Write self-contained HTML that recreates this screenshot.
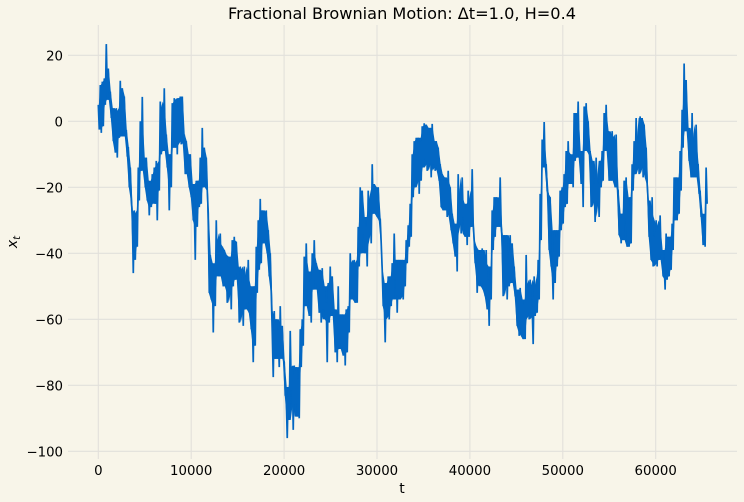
<!DOCTYPE html>
<html lang="en">
<head>
<meta charset="utf-8">
<title>Fractional Brownian Motion</title>
<style>
html,body{margin:0;padding:0;background:#f8f5e9;}
svg{display:block;}
text{font-family:"DejaVu Sans","Liberation Sans",sans-serif;fill:#000;}
</style>
</head>
<body>
<svg id="chart" width="744" height="502" viewBox="0 0 744 502" xmlns="http://www.w3.org/2000/svg">
<rect x="0" y="0" width="744" height="502" fill="#f8f5e9"/>
<g id="grid"></g>
<path id="band" fill="#0367c3" stroke="none"/>
<path id="line" fill="none" stroke="#0367c3" stroke-width="1.7" stroke-linejoin="bevel"/>
<g id="ticks"></g>
<text x="402" y="19" text-anchor="middle" font-size="16" textLength="348" lengthAdjust="spacingAndGlyphs">Fractional Brownian Motion: Δt=1.0, H=0.4</text>
<text x="402" y="493" text-anchor="middle" font-size="14">t</text>
<text transform="translate(17,242) rotate(-90)" text-anchor="middle" font-size="14" font-style="italic">x<tspan dy="3" font-size="10">t</tspan></text>
</svg>
<script>
const xTicks = [0, 10000, 20000, 30000, 40000, 50000, 60000];
const yTicks = [20, 0, -20, -40, -60, -80, -100];
const tMax = 65535;
const seriesValues = [
5,-2.5, 11,-3.5, 12,-1.5, 13,5, 23.4,9, 16,6.5, 9,1, 4,-6, 3,-9.5, 4,-11,
3,-5, 12.3,-4.6, 10,-4.6, 7.5,-4.6, -2.6,-10.7, -7.8,-20, -14,-24, -28,-46, -27,-42, -29,-38,
-14,-24, 0,-15, 7.4,-14, -11,-20, -11,-24, -18,-28.5, -19,-26, -16,-24, -14,-25, -12,-30,
-13,-21, 6,-10, 4,-9, 10,-8.7, -4,-14, -10,-27, -10,-20, 5.5,-8, 7,-8, 6.5,-10,
7,-6, 7.5,-7, 7.5,-5, -4,-16, -6,-16, -10,-20, -10,-23, -19,-30, -26,-42, -18,-32,
-18,-26, -11,-25, -2,-20, -8,-19, -11,-21, -28,-52, -40.5,-54, -43,-64, -44,-56, -30,-46,
-37,-47, -34,-47, -38,-50, -39,-50, -40.5,-55, -41,-52, -42,-57, -36,-50, -35,-48, -36.5,-47,
-45,-61, -44,-58, -49,-62, -44,-57, -47,-56, -42,-58, -50,-63, -59,-73, -50,-68, -38,-52,
-30,-45, -23.5,-43, -27,-37, -28,-36, -27,-40, -33,-47, -40,-52, -64,-77.5, -57.5,-72, -60,-72,
-63,-74.5, -56,-71.5, -62,-72, -73,-83, -83.5,-96, -80.5,-90.5, -63.5,-81.5, -74.5,-93.5, -74,-85.5, -74.5,-89.5,
-78,-90, -63,-74.5, -60,-68, -41,-56, -37,-51, -45.5,-59, -48,-61, -40,-51, -36,-49, -43,-51,
-45,-58, -46,-61, -44.5,-57, -50,-60, -55,-73, -49,-61, -44,-58, -47,-59, -57,-70, -59,-73,
-50,-68, -58.5,-69, -58.5,-71, -58.7,-74, -57,-70, -56,-64, -40,-52, -43,-54, -42,-55, -43,-55,
-32,-44, -20,-40, -21,-34, -29,-40, -32,-44, -21,-34, -24,-37, -13,-28, -19,-28, -20,-29,
-20,-30, -29.5,-37, -45,-56, -54,-67, -49,-59, -47,-60, -47,-56, -43,-54, -34,-47, -42,-58,
-42,-54, -42,-53, -42,-54, -43,-50, -36,-43, -31.5,-38, -25,-35, -10,-23, -6,-20, -5,-18,
-5,-22, -6,-18, -1.5,-14, -0.6,-12, -1,-15, -3.5,-13, -2,-17, -0.8,-13, -6,-15, -6,-14,
-8,-18, -13,-26, -16,-27, -17,-27, -18,-29, -15,-26, -20,-33, -28,-37, -31,-41, -32,-45.5,
-16,-31, -23,-34, -17,-29, -25,-35, -26,-37.5, -21,-35, -24,-32, -14.5,-31, -36,-43, -38,-52,
-39,-49, -39,-50, -38.5,-51, -43,-53, -39,-57, -48,-62, -44,-54, -27,-39, -23,-35, -23,-32,
-24,-32, -17,-32, -35,-53, -34.5,-50, -34.5,-54, -42,-50, -34.5,-49, -37,-48, -44,-53, -53,-62,
-51,-65, -50.5,-64, -54,-66, -54,-66, -40.5,-59, -50,-60, -48,-59, -56,-67.5, -47,-59, -50,-58,
-42,-54, -22,-36, -5.5,-14, -0.2,-14, -13,-21, -22,-39, -23,-44, -42,-54, -33,-49, -33,-44,
-33,-41, -21,-33, -20,-31, -16,-26, -9,-25, -6,-17, -10,-19, -11,-20, 2.5,-12, 2.5,-9,
6,-11, -9,-19, -10,-26, 4.5,-9, 5.5,-8, 0,-10, -9,-26, -12,-24, -19,-30.5, -11,-24,
-19,-29, -12,-20, -9,-18, 2.5,-9, 5,-8, -3,-18, -5,-18, -3,-13, -8,-20, -4,-20,
-21,-34.5, -28,-37, -28,-36, -18,-29, -17,-38, -24,-38, -23,-37, -13,-21, -6,-16, 1,-14,
-7,-16, 1.5,-14, 1,-17, -1,-11, -8,-19, -24,-35, -28,-42, -23,-44, -35,-43, -30,-44,
-32,-42, -28.5,-42, -39,-47, -43,-51, -34,-48, -35,-47, -35,-45, -31,-39, -17,-30, -17,-30,
-18,-28, -9,-21, 3.5,-8, 17.5,-3, 12.5,-3, -2,-12, -7,-17, 2.5,-17, -6,-17, -1,-13,
-13,-22, -21,-29, -28,-37.5, -29,-38, -14,-25
];

const plotLeft = 68, plotRight = 737, plotTop = 25, plotBottom = 459;
function xScale(t) { return 98.3 + t * 92.9 / 10000; }
function yScale(v) { return 121.3 - v * 3.3; }

const svgNS = 'http://www.w3.org/2000/svg';
const gridGroup = document.getElementById('grid');
const tickGroup = document.getElementById('ticks');
function fmt(v) { return v < 0 ? '\u2212' + Math.abs(v) : String(v); }

xTicks.forEach(function (t) {
  const gl = document.createElementNS(svgNS, 'line');
  
  
  gl.setAttribute('x1', xScale(t)); gl.setAttribute('x2', xScale(t));
  gl.setAttribute('y1', plotTop); gl.setAttribute('y2', plotBottom);
  gl.setAttribute('stroke', '#e2e0db'); gl.setAttribute('stroke-width', '1.1');
  gridGroup.appendChild(gl);
  const lb = document.createElementNS(svgNS, 'text');
  
  
  lb.setAttribute('x', xScale(t)); lb.setAttribute('y', 475);
  lb.setAttribute('text-anchor', 'middle'); lb.setAttribute('font-size', '13.3');
  lb.textContent = fmt(t);
  tickGroup.appendChild(lb);
});
yTicks.forEach(function (v) {
  const gl = document.createElementNS(svgNS, 'line');
  
  
  gl.setAttribute('x1', plotLeft); gl.setAttribute('x2', plotRight);
  gl.setAttribute('y1', yScale(v)); gl.setAttribute('y2', yScale(v));
  gl.setAttribute('stroke', '#e2e0db'); gl.setAttribute('stroke-width', '1.1');
  gridGroup.appendChild(gl);
  const lb = document.createElementNS(svgNS, 'text');
  
  
  lb.setAttribute('x', 63); lb.setAttribute('y', yScale(v) + 5);
  lb.setAttribute('text-anchor', 'end'); lb.setAttribute('font-size', '13.3');
  lb.textContent = fmt(v);
  tickGroup.appendChild(lb);
});

const step = tMax / (seriesValues.length - 1);
let d = '';
seriesValues.forEach(function (v, i) {
  d += (i ? 'L' : 'M') + xScale(i * step).toFixed(2) + ' ' + yScale(v).toFixed(2);
});
document.getElementById('line').setAttribute('d', d);

/* Dense core of the trace: fills one-column notches between neighbouring swings, leaves spikes to the line. */
function median3(a, b, c) { return [a, b, c].sort(function (p, q) { return p - q; })[1]; }
const columnCount = Math.floor(seriesValues.length / 2);
function columnValue(i, offset) {
  const k = Math.max(0, Math.min(columnCount - 1, i));
  return seriesValues[k * 2 + offset];
}
let upperEdge = [];
let lowerEdge = [];
for (let i = 0; i < columnCount; i++) {
  const px = xScale((i * 2 + 0.5) * step).toFixed(2);
  upperEdge.push(px + ' ' + yScale(median3(columnValue(i - 1, 0), columnValue(i, 0), columnValue(i + 1, 0))).toFixed(2));
  lowerEdge.unshift(px + ' ' + yScale(median3(columnValue(i - 1, 1), columnValue(i, 1), columnValue(i + 1, 1))).toFixed(2));
}
document.getElementById('band').setAttribute('d', 'M' + upperEdge.concat(lowerEdge).join('L') + 'Z');
</script>
</body>
</html>
